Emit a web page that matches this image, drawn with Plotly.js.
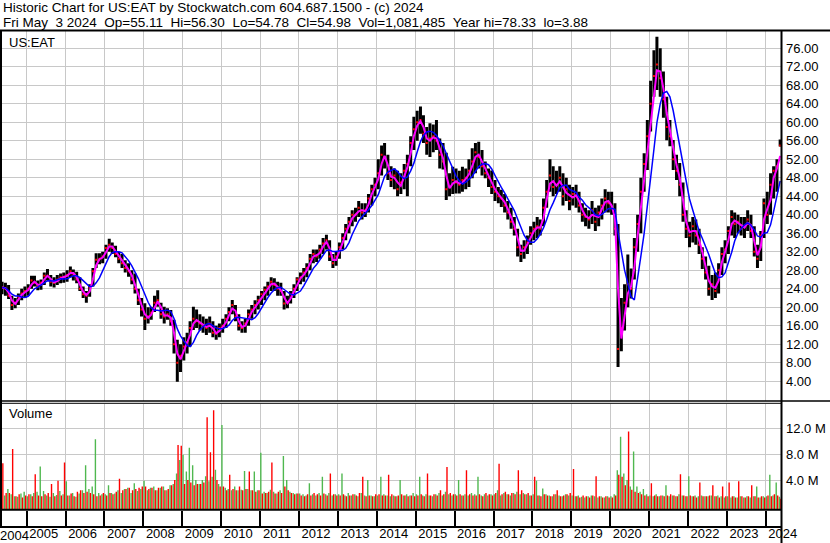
<!DOCTYPE html>
<html>
<head>
<meta charset="utf-8">
<script src="https://cdn.plot.ly/plotly-3.0.1.min.js"></script>
<style>
html,body{margin:0;padding:0;background:#fff;}
#chart{width:830px;height:543px;}
</style>
</head>
<body>
<div id="chart"></div>
<script>
// ---------------- DATA (monthly, May 2004 .. May 2024) ----------------
const FIRST_YEAR = 2004, FIRST_MONTH = 5;   // first bar = May 2004

const monthlyLow = [
  22.8,22.5,21.8,19.4,19.8,20.5,21.5,22.0,                       // 2004 May-Dec
  22.5,24.0,24.5,23.7,23.8,24.8,25.8,24.5,24.3,24.8,25.2,25.3,   // 2005
  25.5,26.5,25.8,25.2,23.5,22.0,21.0,22.3,24.5,28.5,29.3,29.5,   // 2006
  30.5,32.0,31.5,30.8,29.5,28.5,27.5,26.6,25.0,23.0,20.5,18.0,   // 2007
  15.1,16.5,17.3,19.0,20.1,17.5,16.5,17.3,16.0,10.0,3.9,6.0,     // 2008
  8.5,10.0,11.5,15.1,15.5,15.0,14.5,14.0,14.5,13.5,13.0,13.5,    // 2009
  14.5,15.5,17.0,18.5,17.0,15.0,14.5,14.5,16.0,17.5,18.5,19.5,   // 2010
  20.5,21.5,22.5,23.5,23.5,22.5,22.5,19.5,19.8,20.8,22.0,23.5,   // 2011
  25.0,25.5,26.5,28.0,29.5,29.8,30.5,31.5,32.5,30.0,28.5,29.0,   // 2012
  30.5,32.5,34.5,36.0,37.5,38.5,39.5,39.0,39.5,40.5,42.0,44.0,   // 2013
  45.5,48.5,50.0,47.5,46.0,45.5,44.0,44.5,45.5,44.0,50.5,54.0,   // 2014
  56.0,57.5,55.5,53.0,52.5,53.5,54.0,50.0,49.8,43.2,44.0,44.5,   // 2015
  44.6,44.6,45.0,45.5,46.0,47.9,49.0,50.0,48.5,47.9,46.0,44.5,   // 2016
  43.0,42.5,41.7,40.5,39.0,37.0,35.5,31.0,29.8,30.5,31.5,33.5,   // 2017
  34.5,35.0,35.5,37.5,41.5,45.0,44.0,44.5,45.0,42.0,43.0,41.0,   // 2018
  42.0,41.5,40.5,38.5,37.5,37.0,38.0,36.5,37.5,39.0,40.5,40.5,   // 2019
  40.0,35.5,7.1,10.5,15.0,20.0,21.9,26.0,32.0,36.0,45.0,49.7,    // 2020
  58.0,65.5,67.0,65.5,61.0,56.1,54.8,49.7,47.5,44.0,38.5,35.0,   // 2021
  33.0,34.0,33.5,31.5,28.3,26.0,22.5,21.6,22.0,23.0,27.0,29.5,   // 2022
  31.5,35.5,35.0,36.0,35.5,35.0,36.5,35.0,31.0,28.5,30.0,35.0,   // 2023
  38.0,40.0,43.5,45.0,54.78                                      // 2024 Jan-May
];
const monthlyHigh = [
  25.5,25.3,24.8,22.5,22.0,23.0,24.0,24.5,
  25.0,26.8,26.8,25.8,26.0,27.5,28.3,27.0,26.5,27.0,27.3,27.5,
  28.0,28.8,28.2,27.7,26.5,24.5,23.5,25.0,28.5,31.7,31.7,32.0,
  33.5,34.8,34.0,33.3,32.0,31.5,30.2,29.5,28.0,27.3,24.0,22.0,
  20.9,20.0,20.1,22.5,23.7,21.0,20.1,19.8,19.4,17.3,13.0,12.0,
  13.5,14.5,17.0,20.1,19.5,18.5,18.0,17.5,18.0,17.0,16.0,16.5,
  17.5,18.5,20.0,21.6,20.5,18.5,17.0,17.5,19.5,20.5,21.5,22.5,
  23.5,24.5,25.5,26.5,26.3,25.5,25.3,23.5,22.5,23.5,25.0,26.5,
  27.5,28.5,29.5,31.5,32.5,32.5,33.5,35.0,35.7,34.5,31.5,32.0,
  34.0,36.0,38.0,39.5,41.0,41.5,43.0,42.5,42.5,44.5,46.5,48.0,
  52.0,55.0,55.5,53.0,50.5,50.0,49.5,49.0,51.0,53.0,57.0,61.2,
  62.5,63.4,61.5,59.0,59.8,59.5,60.5,56.5,55.5,53.4,49.0,50.4,
  50.0,49.5,50.4,50.0,52.0,54.4,55.5,55.8,54.0,51.5,50.0,49.6,
  47.5,46.0,45.4,44.5,43.0,41.5,39.5,37.0,33.5,34.5,35.5,37.5,
  38.5,39.5,39.0,43.5,47.5,52.0,50.5,49.5,50.5,49.0,48.0,46.5,
  46.0,46.5,45.0,42.5,41.5,41.0,43.0,41.5,42.0,43.5,45.5,45.0,
  45.0,42.5,38.0,22.0,25.0,31.4,28.4,35.0,40.0,48.0,53.3,60.5,
  69.0,75.6,78.5,76.0,71.0,65.5,60.5,56.2,53.0,51.2,47.0,41.0,
  38.5,39.5,39.0,37.0,33.0,31.0,29.0,27.0,27.5,29.5,33.0,34.5,
  37.5,41.0,40.5,40.0,39.5,39.5,41.0,40.0,37.5,33.5,36.5,43.5,
  45.0,49.0,50.5,52.0,56.3
];
const monthlyClose = [
  24.3,24.0,22.5,20.5,21.0,22.3,23.0,23.5,
  24.0,25.8,25.3,24.5,25.3,26.8,26.8,25.5,25.3,26.0,26.5,26.6,
  27.0,27.8,27.0,26.0,24.0,22.8,22.5,24.3,27.8,30.3,30.5,31.0,
  32.8,33.5,32.8,31.5,30.5,29.5,28.5,27.8,26.0,24.0,21.5,19.5,
  17.5,18.0,18.8,21.0,21.5,18.5,18.0,18.5,17.0,12.0,8.0,9.5,
  11.5,12.5,15.5,17.5,17.0,16.5,16.0,15.5,16.5,14.5,14.3,15.5,
  16.0,17.5,19.0,20.5,18.0,16.0,15.5,16.5,18.5,19.5,20.5,21.5,
  22.8,23.8,24.5,25.5,24.8,24.0,23.5,20.8,21.0,22.8,24.0,26.0,
  26.5,27.5,28.5,30.5,31.5,31.0,32.5,33.8,34.5,31.0,29.5,31.0,
  33.0,35.0,37.0,38.5,40.0,40.0,41.5,40.5,41.0,43.5,45.5,46.5,
  49.0,53.0,52.5,49.0,47.5,48.5,45.5,47.0,49.5,51.0,55.5,58.5,
  60.0,60.5,57.5,55.5,56.5,57.0,56.0,53.0,51.5,45.5,46.0,47.5,
  47.0,46.5,47.5,48.0,49.5,51.5,53.5,52.5,50.5,49.0,48.0,46.0,
  45.0,44.0,43.5,42.0,40.5,38.5,37.0,33.0,31.5,33.0,34.0,36.0,
  37.0,37.5,37.0,41.5,45.0,48.5,46.0,46.5,48.0,44.0,45.5,43.0,
  44.5,44.0,42.0,40.0,39.5,39.0,41.0,38.5,40.5,42.0,43.5,42.5,
  41.5,37.0,11.0,15.5,21.0,25.0,24.0,33.0,38.0,45.0,51.0,57.0,
  64.0,70.0,72.5,69.5,65.0,59.0,57.0,52.0,49.5,46.5,40.0,37.0,
  35.5,37.5,35.5,33.5,30.5,27.5,24.0,25.0,23.5,28.0,31.5,32.5,
  36.5,39.5,38.0,38.5,37.0,37.5,39.0,36.5,32.0,30.5,35.5,42.5,
  40.0,46.5,49.5,50.5,54.98
];
// volume in millions of shares: tallest up-day (green) and down-day (red) bar of each month
const volumeUp = [
  2.0,1.6,2.6,1.8,1.5,1.4,1.9,2.2,
  1.5,1.8,2.0,2.2,6.1,2.3,1.6,1.4,2.0,1.7,2.3,1.8,
  3.8,1.6,2.0,1.4,1.9,2.4,6.3,2.6,3.0,10.3,2.0,1.8,
  1.8,3.2,2.0,1.9,2.4,2.0,2.6,2.8,2.0,3.5,2.3,2.6,
  3.9,2.4,2.8,3.0,2.4,2.8,3.0,2.4,3.2,3.4,5.0,7.1,
  7.9,5.3,9.0,6.3,4.0,3.4,4.0,4.6,3.8,4.5,5.6,3.4,
  12.5,2.8,2.6,2.4,3.0,2.4,2.5,5.4,2.6,2.4,5.3,2.4,
  8.2,2.2,2.0,2.5,2.2,1.9,2.4,7.7,4.0,2.2,2.0,1.9,
  1.9,1.8,1.6,3.5,1.8,1.6,2.0,4.5,1.8,2.0,1.6,1.8,
  1.8,5.0,1.6,2.0,1.6,1.8,1.5,2.0,1.6,4.0,1.6,1.5,
  1.6,4.5,1.8,1.6,1.5,1.6,1.5,4.0,1.6,1.8,1.6,2.0,
  1.8,4.5,1.6,1.8,1.6,1.5,1.8,2.0,1.6,2.2,1.8,1.6,
  1.8,4.0,1.6,1.8,1.6,2.0,1.8,4.5,1.6,1.8,1.6,1.8,
  1.8,2.4,1.6,2.0,1.8,1.6,2.0,2.2,1.8,2.0,1.8,1.6,
  1.8,3.9,1.6,2.7,1.8,1.6,1.5,1.8,1.6,1.5,1.8,1.6,
  1.6,1.5,1.6,1.4,1.3,1.5,1.6,1.5,1.3,1.5,1.3,1.5,
  1.5,1.8,5.5,10.7,5.0,4.0,3.0,8.4,3.0,2.2,2.6,1.8,
  1.6,1.5,1.8,1.5,1.6,3.2,1.5,1.6,1.5,1.8,1.6,1.5,
  4.6,1.5,1.6,1.5,1.6,1.5,1.5,1.6,1.5,1.6,1.5,1.3,
  1.5,1.3,1.5,1.3,1.5,1.3,1.5,1.3,1.5,3.0,1.3,1.5,
  1.5,4.8,1.6,3.6,1.4
];
const volumeDown = [
  6.6,2.0,2.0,8.8,1.5,1.8,1.3,1.6,
  1.8,1.5,4.9,1.6,1.5,1.8,2.0,3.4,1.5,3.9,1.6,6.7,
  1.6,1.9,1.5,2.2,2.4,2.0,2.2,2.0,1.8,1.5,1.6,2.0,
  1.6,2.0,1.8,2.2,4.2,2.4,2.6,2.8,2.4,2.6,2.8,3.0,
  3.0,2.6,2.8,2.4,2.8,3.0,2.4,2.6,3.2,4.0,9.4,9.3,
  3.4,4.0,3.6,3.2,3.4,3.4,3.6,13.7,8.3,14.8,4.0,3.0,
  3.0,2.4,4.8,2.6,2.4,3.0,2.4,2.6,5.3,2.4,2.2,2.4,
  1.9,2.0,2.2,6.7,1.9,2.2,2.0,3.0,2.4,2.0,1.8,1.9,
  1.6,1.5,1.8,1.6,2.0,1.8,1.6,1.9,1.6,5.0,1.8,1.6,
  1.6,1.8,1.5,1.6,1.8,1.6,2.0,4.5,1.5,1.6,1.5,1.8,
  1.8,1.6,1.6,4.8,1.8,1.5,1.6,1.8,1.6,1.5,1.6,1.5,
  1.6,1.8,1.5,5.0,1.6,1.8,1.6,2.4,1.8,6.0,2.0,1.8,
  1.6,1.8,1.6,5.5,1.8,1.6,1.6,1.8,1.5,2.0,1.8,1.6,
  2.0,6.5,1.8,2.2,1.8,2.0,1.8,5.5,2.4,1.8,2.0,1.6,
  4.5,1.6,1.5,1.8,1.6,1.5,1.8,2.4,1.5,1.6,1.8,2.0,
  5.7,1.5,1.3,1.6,1.5,1.3,1.6,4.6,1.5,1.3,1.5,1.3,
  1.3,1.6,4.8,4.5,3.2,11.5,2.5,2.2,2.0,1.8,1.6,1.5,
  3.5,1.6,1.5,1.6,1.5,1.6,1.8,1.6,1.5,4.9,1.6,1.5,
  1.6,1.5,1.3,3.6,1.5,1.5,1.6,3.2,1.5,1.3,3.0,1.5,
  3.6,1.5,1.3,3.8,1.5,1.3,1.5,3.2,1.5,1.3,1.5,1.3,
  1.6,1.5,1.8,1.6,1.1
];
const yearLabels = ['2005','2006','2007','2008','2009','2010','2011','2012','2013','2014',
                    '2015','2016','2017','2018','2019','2020','2021','2022','2023','2024'];
const priceTicks = [4,8,12,16,20,24,28,32,36,40,44,48,52,56,60,64,68,72,76];
const volumeTicks = [4,8,12];
const SHORT_MA = 2, LONG_MA = 6;   // months

// ---------------- HELPERS ----------------
function monthDate(i, day){
  const m0 = FIRST_MONTH - 1 + i;
  const y = FIRST_YEAR + Math.floor(m0/12);
  const m = (m0 % 12) + 1;
  return y + '-' + String(m).padStart(2,'0') + '-' + day;
}
function movingAverage(arr, n){
  return arr.map((_, i) => {
    const s = arr.slice(Math.max(0, i-n+1), i+1);
    return s.reduce((a,b)=>a+b,0)/s.length;
  });
}
const N = monthlyClose.length;
const midDates = monthlyClose.map((_, i) => monthDate(i, '15'));
const upDates = monthlyClose.map((_, i) => monthDate(i, '08'));
const downDates = monthlyClose.map((_, i) => monthDate(i, '22'));

// hi-lo segments
const segX = [], segY = [];
for (let i = 0; i < N; i++){ segX.push(midDates[i], midDates[i], null); segY.push(monthlyLow[i], monthlyHigh[i], null); }

// pixel -> paper helpers (plot area 2..781 x 31..510)
const PL = 2, PR = 781, PT = 31, PB = 510;
const px = p => (p - PL) / (PR - PL);
const py = p => (PB - p) / (PB - PT);

const VOL_MIN = -0.64, VOL_MAX = 15.84;
const GRID = '#c8c8c8';
const FONT = '"Liberation Sans", Arial, Helvetica, sans-serif';
const DAY = 86400000;

const traces = [
  {type:'scatter', mode:'lines', x:segX, y:segY, xaxis:'x', yaxis:'y',
   line:{color:'#000000', width:3}, hoverinfo:'skip', connectgaps:false},
  {type:'scatter', mode:'markers', x:midDates, y:monthlyClose, xaxis:'x', yaxis:'y',
   marker:{color:'#ff0000', size:2, symbol:'square', line:{width:0}}, hoverinfo:'skip'},
  {type:'scatter', mode:'lines', x:midDates, y:movingAverage(monthlyClose, SHORT_MA), xaxis:'x', yaxis:'y',
   line:{color:'#ff00ff', width:2}, hoverinfo:'skip'},
  {type:'scatter', mode:'lines', x:midDates, y:movingAverage(monthlyClose, LONG_MA), xaxis:'x', yaxis:'y',
   line:{color:'#0000ff', width:1.5}, hoverinfo:'skip'},
  {type:'bar', x:upDates, y:volumeUp.map(v => v - VOL_MIN), base:VOL_MIN, xaxis:'x2', yaxis:'y2',
   width:13*DAY, marker:{color:'#4fb84f', line:{width:0}}, hoverinfo:'skip'},
  {type:'bar', x:downDates, y:volumeDown.map(v => v - VOL_MIN), base:VOL_MIN, xaxis:'x2', yaxis:'y2',
   width:13*DAY, marker:{color:'#ff0000', line:{width:0}}, hoverinfo:'skip'}
];

const X_START = '2004-05-14', X_END = '2024-05-23';
const yearTicks = yearLabels.map(y => y + '-01-01');

const L = (x0,y0,x1,y1,w) => ({type:'line', xref:'paper', yref:'paper', x0:px(x0), y0:py(y0), x1:px(x1), y1:py(y1),
                              line:{color:'#000', width:w}, layer:'above'});

const layout = {
  width:830, height:543,
  margin:{l:PL, r:830-PR, t:PT, b:543-PB, pad:0},
  paper_bgcolor:'#ffffff', plot_bgcolor:'#ffffff',
  showlegend:false, barmode:'overlay', hovermode:false,
  font:{family:FONT, size:13, color:'#000'},
  xaxis:{type:'date', range:[X_START, X_END], anchor:'y', tickvals:yearTicks, showticklabels:false,
         ticks:'', showgrid:true, gridcolor:GRID, gridwidth:1, zeroline:false, showline:false, fixedrange:true},
  xaxis2:{type:'date', range:[X_START, X_END], anchor:'y2', tickvals:yearTicks, ticktext:yearLabels,
          ticks:'outside', ticklen:17, tickwidth:2, tickcolor:'#000', ticklabelshift:17, ticklabelstandoff:-6,
          tickfont:{family:FONT, size:13, color:'#000'}, tickangle:0,
          showgrid:true, gridcolor:GRID, gridwidth:1, zeroline:false, showline:false, fixedrange:true},
  yaxis:{domain:[py(400.5), 1], range:[-0.15, 79.74], side:'right', tickvals:priceTicks,
         ticktext:priceTicks.map(v => v.toFixed(2)), ticks:'', ticklabelstandoff:4,
         tickfont:{family:FONT, size:13, color:'#000'},
         showgrid:true, gridcolor:GRID, gridwidth:1, zeroline:false, showline:false, fixedrange:true},
  yaxis2:{domain:[0, py(403.5)], range:[VOL_MIN, VOL_MAX], side:'right', tickvals:volumeTicks,
          ticktext:volumeTicks.map(v => v.toFixed(1) + ' M'), ticks:'', ticklabelstandoff:4,
          tickfont:{family:FONT, size:13, color:'#000'},
          showgrid:true, gridcolor:GRID, gridwidth:1, zeroline:false, showline:false, fixedrange:true},
  shapes:[
    L(0, 30.5, 830, 30.5, 2),       // top rule
    L(1, 30, 1, 527, 2),            // left border
    L(781.5, 30, 781.5, 543, 2),    // right border
    L(0, 401, 830, 401, 1.5),       // pane separator
    L(0, 403.3, 781, 403.3, 1),
    L(0, 509.8, 781, 509.8, 2),     // volume bottom
    L(0, 527, 781, 527, 2)          // year band bottom
  ],
  annotations:[
    {xref:'paper', yref:'paper', x:px(1), y:py(8), xanchor:'left', yanchor:'middle', showarrow:false,
     text:'Historic Chart for US:EAT by Stockwatch.com 604.687.1500 - (c) 2024', font:{family:FONT, size:13.5, color:'#000'}},
    {xref:'paper', yref:'paper', x:px(1), y:py(22.5), xanchor:'left', yanchor:'middle', showarrow:false,
     text:'Fri May\u00a0\u00a03 2024\u00a0\u00a0Op=55.11\u00a0\u00a0Hi=56.30\u00a0\u00a0Lo=54.78\u00a0\u00a0Cl=54.98\u00a0\u00a0Vol=1,081,485\u00a0\u00a0Year hi=78.33\u00a0\u00a0lo=3.88',
     font:{family:FONT, size:13.5, color:'#000'}},
    {xref:'paper', yref:'paper', x:px(7), y:py(42), xanchor:'left', yanchor:'middle', showarrow:false,
     text:'US:EAT', font:{family:FONT, size:13, color:'#000'}},
    {xref:'paper', yref:'paper', x:px(7), y:py(413), xanchor:'left', yanchor:'middle', showarrow:false,
     text:'Volume', font:{family:FONT, size:13, color:'#000'}},
    {xref:'paper', yref:'paper', x:px(-2), y:py(535), xanchor:'left', yanchor:'middle', showarrow:false,
     text:'2004', font:{family:FONT, size:13, color:'#000'}}
  ]
};

Plotly.newPlot('chart', traces, layout, {displayModeBar:false, staticPlot:true});
</script>
</body>
</html>
